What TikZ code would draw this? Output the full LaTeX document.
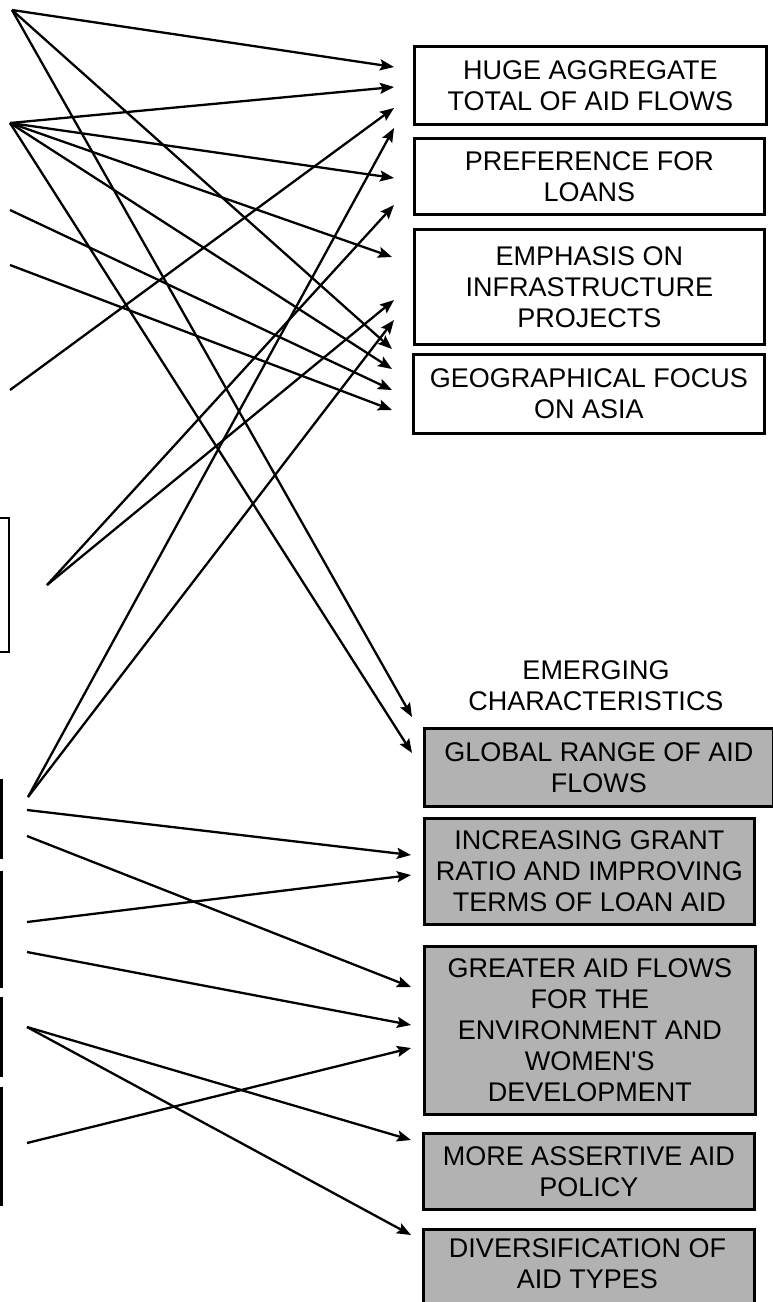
\documentclass[tikz,border=0pt]{standalone}
\usepackage{fontspec}
\setmainfont{Liberation Sans}
\usetikzlibrary{arrows.meta}
\begin{document}
\begin{tikzpicture}[x=1pt,y=-1pt,
  lbl/.style={font=\fontsize{27}{31}\selectfont, align=center},
  whitebox/.style={draw, line width=2.6pt, fill=white, anchor=north west, inner sep=0pt, lbl},
  greybox/.style={whitebox, fill=black!30},
  edgebox/.style={draw, line width=2.6pt, fill=white},
  edgebar/.style={draw, line width=2.6pt, fill=black!45},
  link/.style={line width=2.3pt, -{Stealth[length=14pt,width=11pt,inset=2.5pt]}}]
\useasboundingbox (0,0) rectangle (773,1302);
\fill[white] (0,0) rectangle (773,1302);

% partial boxes at the left edge
\draw[edgebox] (-30,518) rectangle (9,652);
\draw[edgebar] (-30,780) rectangle (1.5,858);
\draw[edgebar] (-30,872) rectangle (1.5,987);
\draw[edgebar] (-30,998) rectangle (1.5,1076);
\draw[edgebar] (-30,1088) rectangle (1.5,1205);

% established characteristics
\node[whitebox, minimum width=352pt, minimum height=78pt] (huge) at (413,45) {HUGE AGGREGATE\\TOTAL OF AID FLOWS};
\node[whitebox, minimum width=350pt, minimum height=76pt] (pref) at (413,137) {PREFERENCE FOR\\LOANS};
\node[whitebox, minimum width=350pt, minimum height=115pt] (emph) at (413,228) {EMPHASIS ON\\INFRASTRUCTURE\\PROJECTS};
\node[whitebox, minimum width=351pt, minimum height=79pt] (geo) at (412,353) {GEOGRAPHICAL FOCUS\\ON ASIA};

% emerging characteristics
\node[lbl] (emerg) at (596,686) {EMERGING\\CHARACTERISTICS};
\node[greybox, minimum width=349pt, minimum height=78pt] (glob) at (423,727) {GLOBAL RANGE OF AID\\FLOWS};
\node[greybox, minimum width=330pt, minimum height=106pt] (incr) at (423,817) {INCREASING GRANT\\RATIO AND IMPROVING\\TERMS OF LOAN AID};
\node[greybox, minimum width=331pt, minimum height=168pt] (great) at (423,945) {GREATER AID FLOWS\\FOR THE\\ENVIRONMENT AND\\WOMEN\textquotesingle S\\DEVELOPMENT};
\node[greybox, minimum width=331pt, minimum height=76pt] (more) at (422,1132) {MORE ASSERTIVE AID\\POLICY};
\node[greybox, minimum width=331pt, minimum height=95pt] (div) at (422,1228) {};
\node[lbl] (divtext) at (587.5,1264) {DIVERSIFICATION OF\\AID TYPES};

% sources
\coordinate (sA) at (12,10);
\coordinate (sB) at (10,123);
\coordinate (sC) at (10,210);
\coordinate (sD) at (10,265);
\coordinate (sE) at (10,390);
\coordinate (sG) at (47,585);
\coordinate (sF) at (28,797);
\coordinate (sH1) at (27,810);
\coordinate (sH2) at (27,836);
\coordinate (sH3) at (27,922);
\coordinate (sH4) at (27,952);
\coordinate (sH5) at (27,1027);
\coordinate (sH6) at (27,1143);

% targets
\coordinate (h1) at (394,67);
\coordinate (h2) at (394,87);
\coordinate (h3) at (394,108);
\coordinate (h4) at (394,128);
\coordinate (p1) at (394,178);
\coordinate (p2) at (394,205);
\coordinate (e1) at (392,257);
\coordinate (e2) at (394,300);
\coordinate (e3) at (394,320);
\coordinate (g1) at (392,349);
\coordinate (g2) at (392,369);
\coordinate (g3) at (392,390);
\coordinate (g4) at (392,410);
\coordinate (gl1) at (412,717);
\coordinate (gl2) at (412,753);
\coordinate (i1) at (411,855);
\coordinate (i2) at (411,875);
\coordinate (gr1) at (411,987);
\coordinate (gr2) at (411,1025);
\coordinate (gr3) at (411,1048);
\coordinate (m1) at (411,1140);
\coordinate (d1) at (411,1235);

% connectors
\draw[link] (sA) -- (h1);
\draw[link] (sA) -- (g1);
\draw[link] (sA) -- (gl1);
\draw[link] (sB) -- (h2);
\draw[link] (sB) -- (p1);
\draw[link] (sB) -- (e1);
\draw[link] (sB) -- (g2);
\draw[link] (sB) -- (gl2);
\draw[link] (sC) -- (g3);
\draw[link] (sD) -- (g4);
\draw[link] (sE) -- (h3);
\draw[link] (sG) -- (p2);
\draw[link] (sG) -- (e2);
\draw[link] (sF) -- (h4);
\draw[link] (sF) -- (e3);
\draw[link] (sH1) -- (i1);
\draw[link] (sH2) -- (gr1);
\draw[link] (sH3) -- (i2);
\draw[link] (sH4) -- (gr2);
\draw[link] (sH5) -- (m1);
\draw[link] (sH5) -- (d1);
\draw[link] (sH6) -- (gr3);
\end{tikzpicture}
\end{document}
